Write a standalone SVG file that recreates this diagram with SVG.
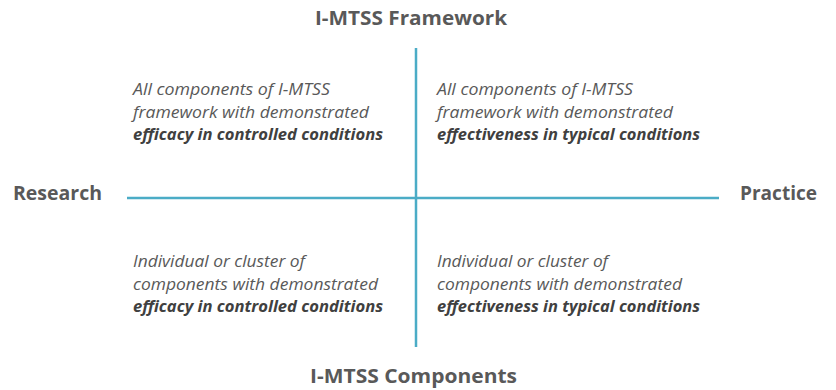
<svg xmlns="http://www.w3.org/2000/svg" width="836" height="390" viewBox="0 0 836 390">
<style>
.title{font-family:"Open Sans","Liberation Sans",sans-serif;font-weight:bold;font-size:19px;fill:#595959}
.q{font-family:"Open Sans","Liberation Sans",sans-serif;font-style:italic;font-size:16px;fill:#595959}
.qb{font-weight:bold;fill:#404040}
.axis{stroke:#4BACC6;stroke-width:2.5;fill:none}
</style>
<rect width="836" height="390" fill="#ffffff"/>
<g id="connectors">
<line class="axis" x1="416" y1="48" x2="416" y2="347"/>
<line class="axis" x1="127" y1="198" x2="719" y2="198"/>
</g>
<g id="top-label"><text class="title" x="315" y="25" textLength="192" lengthAdjust="spacingAndGlyphs">I-MTSS Framework</text></g>
<g id="bottom-label"><text class="title" x="310" y="383" textLength="207" lengthAdjust="spacingAndGlyphs">I-MTSS Components</text></g>
<g id="left-label"><text class="title" x="13" y="200" textLength="89" lengthAdjust="spacingAndGlyphs">Research</text></g>
<g id="right-label"><text class="title" x="740" y="200" textLength="77" lengthAdjust="spacingAndGlyphs">Practice</text></g>
<g id="q-top-left">
<text class="q" x="133" y="95" textLength="197" lengthAdjust="spacingAndGlyphs">All components of I-MTSS</text>
<text class="q" x="133" y="118" textLength="236" lengthAdjust="spacingAndGlyphs">framework with demonstrated</text>
<text class="q qb" x="133" y="140" textLength="250" lengthAdjust="spacingAndGlyphs">efficacy in controlled conditions</text>
</g>
<g id="q-top-right">
<text class="q" x="437" y="95" textLength="196" lengthAdjust="spacingAndGlyphs">All components of I-MTSS</text>
<text class="q" x="437" y="118" textLength="236" lengthAdjust="spacingAndGlyphs">framework with demonstrated</text>
<text class="q qb" x="437" y="140" textLength="263" lengthAdjust="spacingAndGlyphs">effectiveness in typical conditions</text>
</g>
<g id="q-bottom-left">
<text class="q" x="133" y="267" textLength="172" lengthAdjust="spacingAndGlyphs">Individual or cluster of</text>
<text class="q" x="133" y="290" textLength="245" lengthAdjust="spacingAndGlyphs">components with demonstrated</text>
<text class="q qb" x="133" y="312" textLength="250" lengthAdjust="spacingAndGlyphs">efficacy in controlled conditions</text>
</g>
<g id="q-bottom-right">
<text class="q" x="437" y="267" textLength="171" lengthAdjust="spacingAndGlyphs">Individual or cluster of</text>
<text class="q" x="437" y="290" textLength="245" lengthAdjust="spacingAndGlyphs">components with demonstrated</text>
<text class="q qb" x="437" y="312" textLength="263" lengthAdjust="spacingAndGlyphs">effectiveness in typical conditions</text>
</g>
</svg>
